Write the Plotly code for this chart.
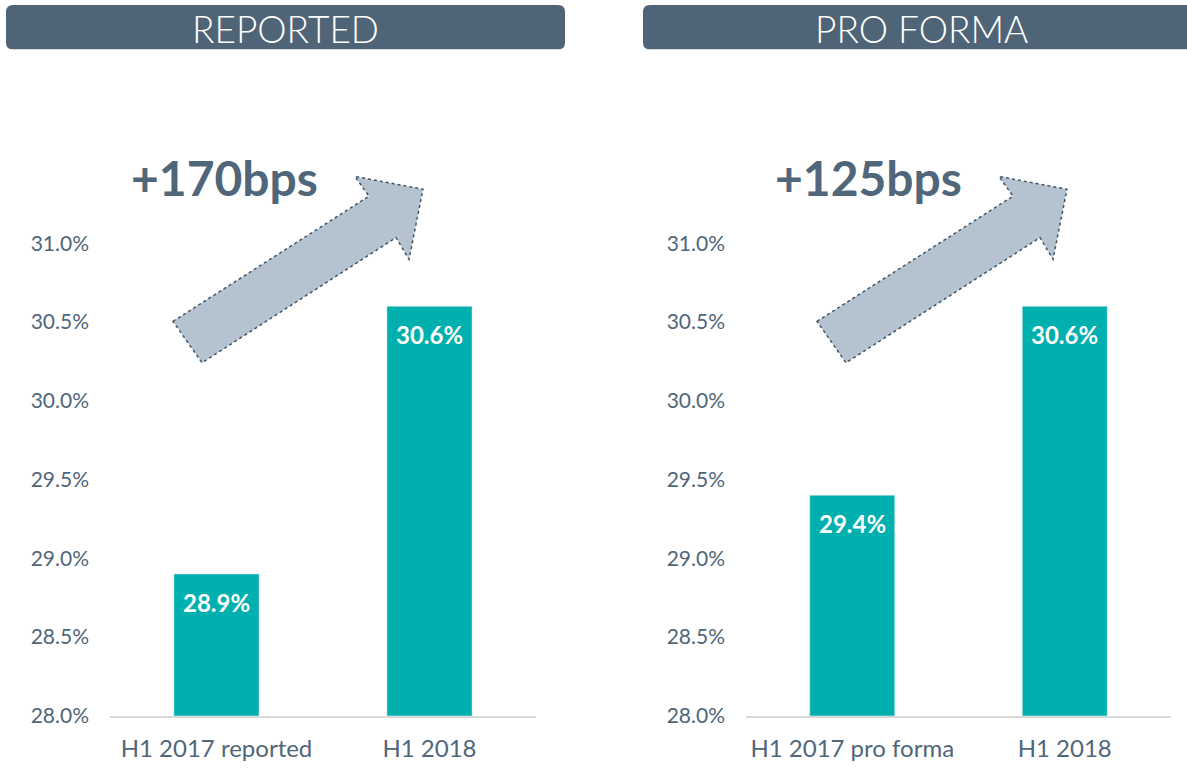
import plotly.graph_objects as go

# ---- data ----
panel_titles = ["REPORTED", "PRO FORMA"]
left_categories = ["H1 2017 reported", "H1 2018"]
left_values = [28.9, 30.6]
right_categories = ["H1 2017 pro forma", "H1 2018"]
right_values = [29.4, 30.6]
change_labels = ["+170bps", "+125bps"]
y_tick_values = [28.0, 28.5, 29.0, 29.5, 30.0, 30.5, 31.0]
y_tick_labels = ["28.0%", "28.5%", "29.0%", "29.5%", "30.0%", "30.5%", "31.0%"]

W, H = 1187, 772
FONT = "Lato, 'Open Sans', sans-serif"
SLATE = "#50667A"
TEAL = "#00B0AE"

def px(x):
    return x / W

def py(y):
    return 1 - y / H

fig = go.Figure()
fig.add_trace(go.Bar(x=left_categories, y=left_values, marker_color=TEAL,
                     width=0.4, xaxis="x", yaxis="y", hoverinfo="skip"))
fig.add_trace(go.Bar(x=right_categories, y=right_values, marker_color=TEAL,
                     width=0.4, xaxis="x2", yaxis="y2", hoverinfo="skip"))

axis_common_x = dict(showgrid=False, zeroline=False, showline=True, linecolor="#D9D9D9",
                     linewidth=1.5, ticks="", tickfont=dict(family=FONT, size=24, color=SLATE),
                     ticklabelstandoff=11, fixedrange=True)
axis_common_y = dict(range=[28, 31.5], showgrid=False, zeroline=False, showline=False,
                     tickvals=y_tick_values, ticktext=y_tick_labels,
                     tickfont=dict(family=FONT, size=21, color=SLATE),
                     ticks="", ticklabelstandoff=20, fixedrange=True)

shapes = []
annotations = []

def rounded_rect(x0, y0, x1, y1, r):
    return (f"M {px(x0 + r)} {py(y0)} L {px(x1 - r)} {py(y0)} "
            f"Q {px(x1)} {py(y0)} {px(x1)} {py(y0 + r)} L {px(x1)} {py(y1 - r)} "
            f"Q {px(x1)} {py(y1)} {px(x1 - r)} {py(y1)} L {px(x0 + r)} {py(y1)} "
            f"Q {px(x0)} {py(y1)} {px(x0)} {py(y1 - r)} L {px(x0)} {py(y0 + r)} "
            f"Q {px(x0)} {py(y0)} {px(x0 + r)} {py(y0)} Z")

banners = [(6, 5, 565, 50, 285), (643, 5, 1200, 50, 921)]
for (x0, y0, x1, y1, cx), title in zip(banners, panel_titles):
    shapes.append(dict(type="path", xref="paper", yref="paper", path=rounded_rect(x0, y0, x1, y1, 7),
                       fillcolor="#4F6577", line=dict(width=0), layer="below"))
    annotations.append(dict(xref="paper", yref="paper", x=px(cx), y=py(29), text=title,
                            showarrow=False, xanchor="center", yanchor="middle",
                            font=dict(family="Lato Light, Lato, sans-serif", size=37, color="white")))

arrow_pts = [(173, 326), (369, 199), (355, 179), (423, 192), (409, 263), (396, 241), (202, 368)]
for i, off in enumerate([0, 644]):
    pts = [(x + off, y) for x, y in arrow_pts]
    path = "M " + " L ".join(f"{px(x)} {py(y)}" for x, y in pts) + " Z"
    shapes.append(dict(type="path", xref="paper", yref="paper", path=path,
                       fillcolor="#B4C3CF", line=dict(color="#3F5468", width=1.5, dash="dot")))
    annotations.append(dict(xref="paper", yref="paper", x=px(129 + off), y=py(180),
                            text=f"<b>{change_labels[i]}</b>", showarrow=False,
                            xanchor="left", yanchor="middle",
                            font=dict(family=FONT, size=48, color=SLATE)))

for xa, ya, cats, vals in [("x", "y", left_categories, left_values),
                           ("x2", "y2", right_categories, right_values)]:
    for c, v in zip(cats, vals):
        annotations.append(dict(xref=xa, yref=ya, x=c, y=v, text=f"<b>{v:.1f}%</b>",
                                showarrow=False, xanchor="center", yanchor="top", yshift=-12,
                                font=dict(family=FONT, size=24, color="white")))

fig.update_layout(
    width=W, height=H, margin=dict(l=0, r=0, t=0, b=0),
    paper_bgcolor="white", plot_bgcolor="white", showlegend=False,
    xaxis=dict(domain=[px(110), px(536)], anchor="y", **axis_common_x),
    yaxis=dict(domain=[py(726), py(167)], anchor="x", **axis_common_y),
    xaxis2=dict(domain=[px(746), px(1171)], anchor="y2", **axis_common_x),
    yaxis2=dict(domain=[py(726), py(167)], anchor="x2", **axis_common_y),
    shapes=shapes, annotations=annotations,
)

fig.write_html("out.html")
